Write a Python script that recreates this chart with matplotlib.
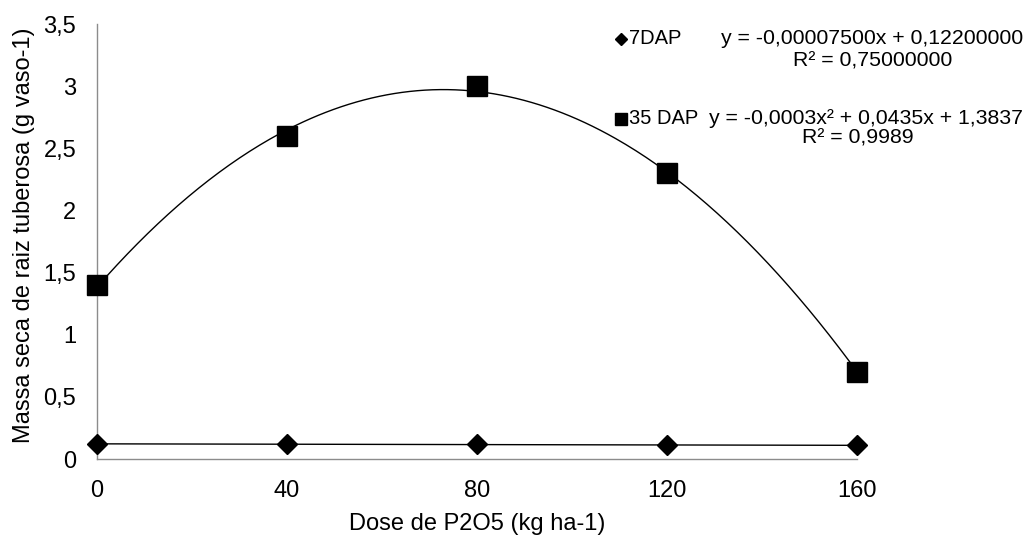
import numpy as np
import matplotlib
matplotlib.use("Agg")
import matplotlib.pyplot as plt

plt.rcParams['font.family'] = ['Liberation Sans', 'DejaVu Sans']

dose = [0, 40, 80, 120, 160]
dap7 = [0.12, 0.12, 0.12, 0.11, 0.11]
dap35 = [1.40, 2.60, 3.00, 2.30, 0.70]
xticks = [0, 40, 80, 120, 160]
yticks = [0, 0.5, 1, 1.5, 2, 2.5, 3, 3.5]
ytick_labels = ['0', '0,5', '1', '1,5', '2', '2,5', '3', '3,5']
eq7_line1 = "y = -0,00007500x + 0,12200000"
eq7_line2 = "R² = 0,75000000"
eq35_line1 = "y = -0,0003x² + 0,0435x + 1,3837"
eq35_line2 = "R² = 0,9989"

fs_axis = 17
fs_leg = 14.5
fs_eq = 15.3
W, H = 1028, 536
fig = plt.figure(figsize=(W/100, H/100), dpi=100)
ax = fig.add_axes([97/W, 1-459/H, (857-97)/W, (459-24)/H])

xs = np.linspace(0, 160, 300)
c7 = np.polyfit(dose, dap7, 1)
c35 = np.polyfit(dose, dap35, 2)
ax.plot(xs, np.polyval(c7, xs), color='black', lw=1.0, zorder=2)
ax.plot(xs, np.polyval(c35, xs), color='black', lw=1.0, zorder=2)
ax.plot(dose, dap7, linestyle='none', marker='D', markersize=10, color='black', clip_on=False, zorder=3)
ax.plot(dose, dap35, linestyle='none', marker='s', markersize=14, color='black', clip_on=False, zorder=3)

ax.set_xlim(0, 160)
ax.set_ylim(0, 3.5)
ax.set_xticks(xticks)
ax.set_xticklabels([str(v) for v in xticks])
ax.set_yticks(yticks)
ax.set_yticklabels(ytick_labels)
ax.tick_params(axis='both', length=0, labelsize=fs_axis, colors='black')
ax.tick_params(axis='y', pad=15)
ax.tick_params(axis='x', pad=15)
for s in ['top', 'right']:
    ax.spines[s].set_visible(False)
for s in ['left', 'bottom']:
    ax.spines[s].set_color('#8c8c8c')
    ax.spines[s].set_linewidth(1.0)

ax.set_xlabel('Dose de P2O5 (kg ha-1)', fontsize=fs_axis, labelpad=8)
ax.set_ylabel('Massa seca de raiz tuberosa (g vaso-1)', fontsize=fs_axis)
ax.yaxis.set_label_coords(-62/760, 0.515)

def fx(px):
    return px / W

def fy(py):
    return 1 - py / H

# legend entries
fig.lines.append(plt.Line2D([fx(621)], [fy(39)], marker='D', markersize=6.5, color='black',
                            transform=fig.transFigure, linestyle='none'))
fig.lines.append(plt.Line2D([fx(621)], [fy(119)], marker='s', markersize=9, color='black',
                            transform=fig.transFigure, linestyle='none'))
fig.text(fx(629), fy(39), '7DAP', fontsize=fs_leg, va='center', ha='left')
fig.text(fx(629), fy(119), '35 DAP', fontsize=fs_leg, va='center', ha='left')
fig.text(fx(872), fy(38), eq7_line1, fontsize=fs_eq, va='center', ha='center')
fig.text(fx(873), fy(61), eq7_line2, fontsize=fs_eq, va='center', ha='center')
fig.text(fx(866), fy(118), eq35_line1, fontsize=fs_eq, va='center', ha='center')
fig.text(fx(858), fy(138), eq35_line2, fontsize=fs_eq, va='center', ha='center')

fig.savefig('out.png', dpi=100)
